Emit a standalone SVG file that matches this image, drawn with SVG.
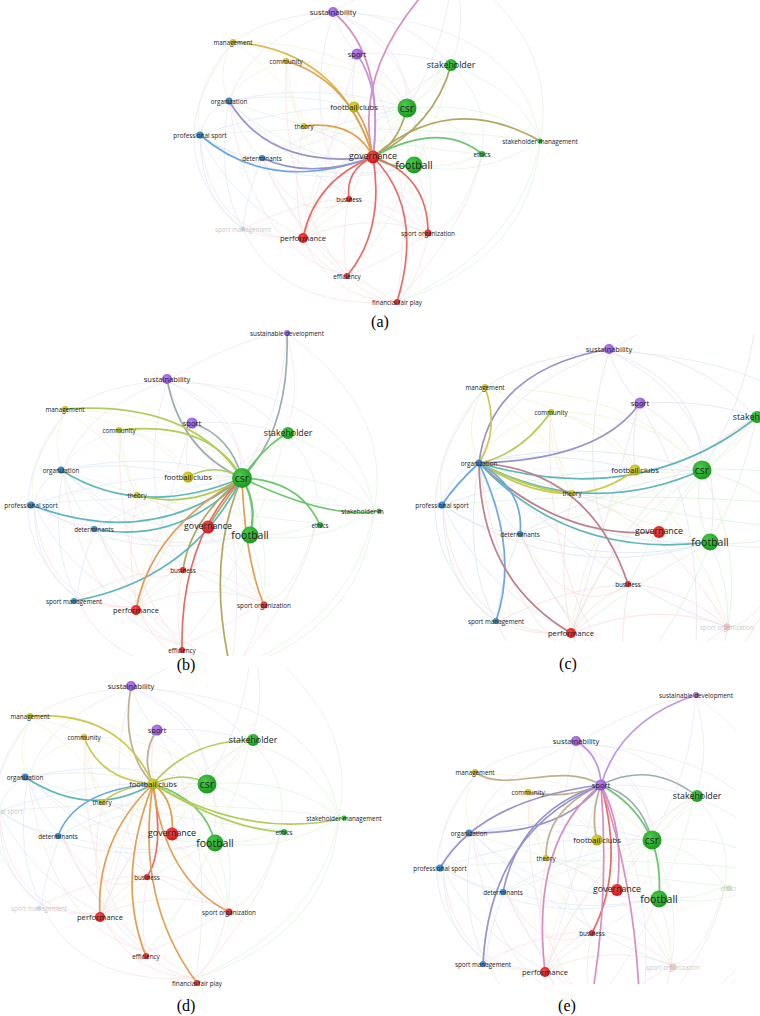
<svg xmlns="http://www.w3.org/2000/svg" xmlns:xlink="http://www.w3.org/1999/xlink" width="760" height="1016" viewBox="0 0 760 1016">
<style>
text{font-family:"Open Sans","Liberation Sans",sans-serif;fill:#222;text-anchor:middle;dominant-baseline:central}
.s{font-size:6.3px}.m{font-size:7.6px}.l{font-size:8.8px}.x{font-size:10.5px}
.cap{font-family:"Liberation Serif",serif;font-size:16px;fill:#000}
.fade{opacity:.25}
path{fill:none}
.f{stroke-width:.6;opacity:.55}
.fb{stroke:#b8d0ee}.fg{stroke:#bfe6bf}.fr{stroke:#f6c0c0}.fy{stroke:#e8e6b0}.fp{stroke:#d6c8f0}
.h{stroke-width:1.7;stroke-linecap:round;opacity:.9}
.red{stroke:#ea5a55}.org{stroke:#df9540}.oy{stroke:#d8b23a}.yel{stroke:#c8c43a}.yg{stroke:#a8c845}
.grn{stroke:#5cc05c}.olv{stroke:#a89e50}.blu{stroke:#5c9fe0}.bp{stroke:#8d88c6}.pur{stroke:#b98ae6}
.pk{stroke:#d384b8}.tl{stroke:#4fb0b5}.tan{stroke:#bba883}.gry{stroke:#8fa6a6}.rp{stroke:#b8727e}
</style>
<defs>
<radialGradient id="gR" cx=".4" cy=".35" r=".7"><stop offset="0" stop-color="#f24a4a"/><stop offset="1" stop-color="#cc1414"/></radialGradient>
<radialGradient id="gG" cx=".4" cy=".35" r=".7"><stop offset="0" stop-color="#4ccc4c"/><stop offset="1" stop-color="#16961a"/></radialGradient>
<radialGradient id="gB" cx=".4" cy=".35" r=".7"><stop offset="0" stop-color="#4a9ae0"/><stop offset="1" stop-color="#1f6fb4"/></radialGradient>
<radialGradient id="gY" cx=".4" cy=".35" r=".7"><stop offset="0" stop-color="#dcd83a"/><stop offset="1" stop-color="#aaa60c"/></radialGradient>
<radialGradient id="gP" cx=".4" cy=".35" r=".7"><stop offset="0" stop-color="#b882ee"/><stop offset="1" stop-color="#8a4ccc"/></radialGradient>
<clipPath id="cA"><rect x="150" y="0" width="460" height="312"/></clipPath>
<clipPath id="cB"><rect x="0" y="325" width="384" height="331"/></clipPath>
<clipPath id="cC"><rect x="400" y="335" width="360" height="306"/></clipPath>
<clipPath id="cD"><rect x="0" y="668" width="390" height="328"/></clipPath>
<clipPath id="cE"><rect x="390" y="680" width="346" height="304"/></clipPath>
<g id="bg" class="f">
<path class="fp" d="M333 12Q400 10 451 65"/><path class="fp" d="M333 12Q410 40 407 108"/><path class="fp" d="M333 12Q270 15 233 42"/>
<path class="fp" d="M333 12Q250 40 229 101"/><path class="fp" d="M333 12Q430 60 414 165"/><path class="fp" d="M333 12Q400 -30 452 -36"/>
<path class="fp" d="M452 -36Q470 20 451 65"/><path class="fp" d="M452 -36Q450 40 407 108"/><path class="fp" d="M333 12Q340 35 357 54"/>
<path class="fp" d="M357 54Q410 50 451 65"/><path class="fp" d="M357 54Q390 70 407 108"/><path class="fp" d="M357 54Q350 80 354 107"/>
<path class="fp" d="M333 12Q300 120 349 199"/><path class="fp" d="M357 54Q330 150 303 238"/><path class="fp" d="M357 54Q420 150 397 302"/>
<path class="fy" d="M233 42Q215 70 229 101"/><path class="fy" d="M233 42Q190 90 200 135"/><path class="fy" d="M233 42Q320 60 354 107"/>
<path class="fy" d="M233 42Q350 40 407 108"/><path class="fy" d="M286 61Q240 75 229 101"/><path class="fy" d="M286 61Q340 70 354 107"/>
<path class="fy" d="M286 61Q370 60 407 108"/><path class="fy" d="M286 61Q285 100 304 126"/><path class="fy" d="M304 126Q360 150 414 165"/>
<path class="fy" d="M354 107Q310 170 303 238"/><path class="fy" d="M354 107Q410 170 428 233"/><path class="fy" d="M233 42Q300 90 304 126"/>
<path class="fy" d="M286 61Q300 160 349 199"/><path class="fy" d="M354 107Q420 120 451 65"/>
<path class="fb" d="M229 101Q205 110 200 135"/><path class="fb" d="M229 101Q240 140 262 158"/><path class="fb" d="M229 101Q215 180 243 229"/>
<path class="fb" d="M229 101Q290 90 354 107"/><path class="fb" d="M229 101Q320 80 407 108"/><path class="fb" d="M229 101Q300 170 414 165"/>
<path class="fb" d="M200 135Q225 155 262 158"/><path class="fb" d="M200 135Q200 200 243 229"/><path class="fb" d="M200 135Q300 200 414 165"/>
<path class="fb" d="M200 135Q300 100 407 108"/><path class="fb" d="M262 158Q245 200 243 229"/><path class="fb" d="M262 158Q340 185 414 165"/>
<path class="fb" d="M262 158Q330 120 407 108"/><path class="fb" d="M200 135Q230 200 303 238"/><path class="fb" d="M229 101Q330 200 428 233"/>
<path class="fb" d="M233 42Q150 150 243 229"/><path class="fb" d="M262 158Q300 240 347 276"/>
<path class="fg" d="M451 65Q420 80 407 108"/><path class="fg" d="M451 65Q440 120 414 165"/><path class="fg" d="M451 65Q490 100 482 154"/>
<path class="fg" d="M451 65Q520 90 540 141"/><path class="fg" d="M407 108Q400 140 414 165"/><path class="fg" d="M407 108Q460 120 482 154"/>
<path class="fg" d="M407 108Q490 100 540 141"/><path class="fg" d="M414 165Q450 170 482 154"/><path class="fg" d="M414 165Q480 180 540 141"/>
<path class="fg" d="M407 108Q330 160 303 238"/><path class="fg" d="M414 165Q350 200 303 238"/><path class="fg" d="M407 108Q370 150 349 199"/>
<path class="fg" d="M414 165Q430 200 428 233"/><path class="fg" d="M407 108Q440 170 428 233"/><path class="fg" d="M414 165Q390 230 347 276"/>
<path class="fg" d="M333 12Q520 20 540 141"/><path class="fg" d="M452 -36Q560 40 540 141"/><path class="fg" d="M397 302Q530 260 540 141"/>
<path class="fg" d="M407 108Q300 150 262 158"/><path class="fg" d="M451 65Q380 140 373 157"/><path class="fg" d="M482 154Q460 230 428 233"/>
<path class="fg" d="M540 141Q520 250 397 302"/><path class="fg" d="M229 101Q330 140 482 154"/><path class="fg" d="M200 135Q380 120 540 141"/>
<path class="fr" d="M303 238Q320 210 349 199"/><path class="fr" d="M303 238Q315 265 347 276"/><path class="fr" d="M303 238Q330 300 397 302"/>
<path class="fr" d="M303 238Q370 210 428 233"/><path class="fr" d="M349 199Q390 200 428 233"/><path class="fr" d="M349 199Q340 240 347 276"/>
<path class="fr" d="M428 233Q420 280 397 302"/><path class="fr" d="M347 276Q370 300 397 302"/><path class="fr" d="M428 233Q390 260 347 276"/>
<path class="fr" d="M303 238Q270 240 243 229"/><path class="fr" d="M243 229Q300 200 349 199"/><path class="fr" d="M303 238Q290 180 304 126"/>
<path class="fr" d="M243 229Q280 310 397 302"/><path class="fr" d="M200 135Q210 240 303 238"/><path class="fr" d="M349 199Q300 230 262 158"/>
<path class="fr" d="M428 233Q380 150 304 126"/><path class="fr" d="M397 302Q300 250 262 158"/><path class="fr" d="M347 276Q250 250 229 101"/>
<path class="fr" d="M303 238Q350 120 451 65"/><path class="fr" d="M397 302Q470 220 482 154"/><path class="fr" d="M347 276Q280 200 286 61"/>
</g>
</defs>
<rect width="760" height="1016" fill="#fff"/>
<g id="connectors">
<g clip-path="url(#cA)">
<use xlink:href="#bg"/>
<g class="h">
<path class="pk" d="M373 157Q350 60 452 -36"/>
<path class="pk" d="M333 12Q385 55 373 157"/>
<path class="pur" d="M357 54Q382 90 373 157"/>
<path class="oy" d="M233 42Q340 50 373 157"/>
<path class="org" d="M286 61Q350 80 373 157"/>
<path class="org" d="M354 107Q368 125 373 157"/>
<path class="org" d="M304 126Q355 120 373 157"/>
<path class="bp" d="M229 101Q270 170 373 157"/>
<path class="blu" d="M200 135Q270 195 373 157"/>
<path class="bp" d="M262 158Q310 180 373 157"/>
<path class="olv" d="M451 65Q435 125 373 157"/>
<path class="olv" d="M407 108Q398 145 373 157"/>
<path class="olv" d="M373 157Q450 90 540 141"/>
<path class="grn" d="M373 157Q440 120 482 154"/>
<path class="grn" d="M373 157Q395 170 414 165"/>
<path class="red" d="M373 157Q345 170 349 199"/>
<path class="red" d="M373 157Q315 180 303 238"/>
<path class="red" d="M373 157Q428 175 428 233"/>
<path class="red" d="M373 157Q385 230 347 276"/>
<path class="red" d="M373 157Q425 210 397 302"/>
</g>
</g>
<g clip-path="url(#cB)">
<use xlink:href="#bg" transform="translate(-166 369)"/>
<g class="h">
<path class="gry" d="M287 333Q290 430 242 478"/>
<path class="gry" d="M167 379Q180 450 242 478"/>
<path class="gry" d="M192 423Q230 435 242 478"/>
<path class="grn" d="M242 478Q265 445 288 433"/>
<path class="yg" d="M65 409Q190 400 242 478"/>
<path class="yg" d="M119 430Q210 420 242 478"/>
<path class="yg" d="M188 477Q215 462 242 478"/>
<path class="tl" d="M61 470Q140 520 242 478"/>
<path class="yg" d="M137 495Q190 510 242 478"/>
<path class="tl" d="M31 505Q150 550 242 478"/>
<path class="tl" d="M94 529Q180 545 242 478"/>
<path class="olv" d="M242 478Q225 500 208 527"/>
<path class="grn" stroke-width="2.3" d="M242 478Q258 505 250 535"/>
<path class="grn" d="M242 478Q300 480 320 525"/>
<path class="grn" d="M242 478Q330 520 379 511"/>
<path class="olv" d="M242 478Q190 520 183 570"/>
<path class="tl" d="M74 601Q190 580 242 478"/>
<path class="org" d="M242 478Q150 530 136 610"/>
<path class="org" d="M242 478Q245 560 264 605"/>
<path class="red" d="M242 478Q180 540 182 650"/>
<path class="olv" d="M242 478Q205 560 231 671"/>
</g>
</g>
<g clip-path="url(#cC)">
<use xlink:href="#bg" transform="translate(192.75 336) scale(1.25)"/>
<g class="h">
<path class="bp" d="M479 463Q490 370 609 349"/>
<path class="yel" d="M485 387Q500 430 479 463"/>
<path class="yg" d="M551 412Q520 455 479 463"/>
<path class="bp" d="M640 403Q600 460 479 463"/>
<path class="tl" d="M479 463Q640 510 757 417"/>
<path class="yel" d="M479 463Q570 520 635 470"/>
<path class="tl" d="M479 463Q590 520 702 470"/>
<path class="yg" d="M479 463Q530 490 572 493"/>
<path class="rp" d="M479 463Q560 540 659 532"/>
<path class="tl" d="M479 463Q570 560 710 542"/>
<path class="rp" d="M479 463Q590 470 628 584"/>
<path class="blu" d="M479 463Q455 485 442 505"/>
<path class="blu" d="M479 463Q525 490 520 534"/>
<path class="blu" d="M479 463Q520 550 496 621"/>
<path class="rp" d="M479 463Q480 580 571 633"/>
</g>
</g>
<g clip-path="url(#cD)">
<use xlink:href="#bg" transform="translate(-201 676)"/>
<g class="h">
<path class="tan" d="M131 686Q120 750 153 784"/>
<path class="tan" d="M157 730Q140 755 153 784"/>
<path class="yel" d="M30 716Q120 710 153 784"/>
<path class="yel" d="M84 737Q100 780 153 784"/>
<path class="yg" d="M153 784Q190 740 253 740"/>
<path class="yg" d="M153 784Q185 770 207 784"/>
<path class="tl" d="M25 777Q90 820 153 784"/>
<path class="yel" d="M102 802Q125 785 153 784"/>
<path class="blu" d="M58 836Q75 790 153 784"/>
<path class="org" d="M153 784Q175 800 172 834"/>
<path class="grn" d="M153 784Q205 800 215 843"/>
<path class="yg" d="M153 784Q230 830 284 832"/>
<path class="yg" d="M153 784Q250 840 344 818"/>
<path class="red" d="M153 784Q165 850 147 877"/>
<path class="org" d="M153 784Q95 840 100 917"/>
<path class="org" d="M153 784Q115 880 146 956"/>
<path class="org" d="M153 784Q135 900 197 983"/>
<path class="org" d="M153 784Q165 880 229 912"/>
</g>
</g>
<g clip-path="url(#cE)">
<use xlink:href="#bg" transform="translate(243 732)"/>
<g class="h">
<path class="pur" d="M601 785Q620 720 696 695"/>
<path class="pur" d="M576 741Q600 755 601 785"/>
<path class="gry" d="M601 785Q650 760 697 796"/>
<path class="tan" d="M475 772C505 795 560 760 601 785"/>
<path class="tan" d="M528 792Q565 800 601 785"/>
<path class="bp" d="M469 833Q560 835 601 785"/>
<path class="gry" d="M601 785Q640 795 652 840"/>
<path class="tan" d="M601 785Q590 815 597 840"/>
<path class="tan" d="M546 858Q545 810 601 785"/>
<path class="bp" d="M440 868Q480 800 601 785"/>
<path class="bp" d="M503 892Q520 810 601 785"/>
<path class="bp" d="M483 964Q490 830 601 785"/>
<path class="pk" d="M545 972Q530 840 601 785"/>
<path class="pk" d="M601 785Q625 830 617 890"/>
<path class="grn" d="M601 785Q665 820 659 899"/>
<path class="red" d="M601 785Q625 870 592 933"/>
<path class="pk" d="M601 785Q610 900 590 1008"/>
<path class="pk" d="M601 785Q640 900 640 1034"/>
</g>
</g>
</g>

<g id="panel-a" clip-path="url(#cA)">
<g id="a-sustainability"><circle cx="333" cy="12" r="5" fill="url(#gP)"/><text class="m" x="333" y="12">sustainability</text></g>
<g id="a-management"><circle cx="233" cy="42" r="3" fill="url(#gY)"/><text class="s" x="233" y="42">management</text></g>
<g id="a-community"><circle cx="286" cy="61" r="3" fill="url(#gY)"/><text class="s" x="286" y="61">community</text></g>
<g id="a-sport"><circle cx="357" cy="54" r="5.5" fill="url(#gP)"/><text class="m" x="357" y="54">sport</text></g>
<g id="a-stakeholder"><circle cx="451" cy="65" r="6" fill="url(#gG)"/><text class="l" x="451" y="65">stakeholder</text></g>
<g id="a-organization"><circle cx="229" cy="101" r="3.5" fill="url(#gB)"/><text class="s" x="229" y="101">organization</text></g>
<g id="a-football-clubs"><circle cx="354" cy="107" r="5.5" fill="url(#gY)"/><text class="m" x="354" y="107">football clubs</text></g>
<g id="a-csr"><circle cx="407" cy="108" r="9.5" fill="url(#gG)"/><text class="x" x="407" y="108">csr</text></g>
<g id="a-theory"><circle cx="304" cy="126" r="3" fill="url(#gY)"/><text class="s" x="304" y="126">theory</text></g>
<g id="a-professional-sport"><circle cx="200" cy="135" r="3.5" fill="url(#gB)"/><text class="s" x="200" y="135">professional sport</text></g>
<g id="a-stakeholder-management"><circle cx="540" cy="141" r="2.5" fill="url(#gG)"/><text class="s" x="540" y="141">stakeholder management</text></g>
<g id="a-ethics"><circle cx="482" cy="154" r="3" fill="url(#gG)"/><text class="s" x="482" y="154">ethics</text></g>
<g id="a-determinants"><circle cx="262" cy="158" r="3" fill="url(#gB)"/><text class="s" x="262" y="158">determinants</text></g>
<g id="a-governance"><circle cx="373" cy="157" r="6.5" fill="url(#gR)"/><text class="l" x="373" y="156">governance</text></g>
<g id="a-football"><circle cx="414" cy="165" r="8.5" fill="url(#gG)"/><text class="x" x="414" y="165">football</text></g>
<g id="a-business"><circle cx="349" cy="199" r="3" fill="url(#gR)"/><text class="s" x="349" y="199">business</text></g>
<g id="a-sport-management" class="fade"><circle cx="243" cy="229" r="2.5" fill="url(#gB)"/><text class="s" x="243" y="229">sport management</text></g>
<g id="a-performance"><circle cx="303" cy="238" r="5" fill="url(#gR)"/><text class="m" x="303" y="238">performance</text></g>
<g id="a-sport-organization"><circle cx="428" cy="233" r="3.5" fill="url(#gR)"/><text class="s" x="428" y="233">sport organization</text></g>
<g id="a-efficiency"><circle cx="347" cy="276" r="3" fill="url(#gR)"/><text class="s" x="347" y="276">efficiency</text></g>
<g id="a-financial-fair-play"><circle cx="397" cy="302" r="3" fill="url(#gR)"/><text class="s" x="397" y="302">financial fair play</text></g>
</g>

<g id="panel-b" clip-path="url(#cB)">
<g id="b-sustainable-development"><circle cx="287" cy="333" r="3" fill="url(#gP)"/><text class="s" x="287" y="333">sustainable development</text></g>
<g id="b-sustainability"><circle cx="167" cy="379" r="5" fill="url(#gP)"/><text class="m" x="167" y="379">sustainability</text></g>
<g id="b-management"><circle cx="65" cy="409" r="3" fill="url(#gY)"/><text class="s" x="65" y="409">management</text></g>
<g id="b-community"><circle cx="119" cy="430" r="3" fill="url(#gY)"/><text class="s" x="119" y="430">community</text></g>
<g id="b-sport"><circle cx="192" cy="423" r="5.5" fill="url(#gP)"/><text class="m" x="192" y="423">sport</text></g>
<g id="b-stakeholder"><circle cx="288" cy="433" r="6" fill="url(#gG)"/><text class="l" x="288" y="433">stakeholder</text></g>
<g id="b-organization"><circle cx="61" cy="470" r="3.5" fill="url(#gB)"/><text class="s" x="61" y="470">organization</text></g>
<g id="b-football-clubs"><circle cx="188" cy="477" r="5.5" fill="url(#gY)"/><text class="m" x="188" y="477">football clubs</text></g>
<g id="b-csr"><circle cx="242" cy="478" r="10" fill="url(#gG)"/><text class="x" x="242" y="478">csr</text></g>
<g id="b-theory"><circle cx="137" cy="495" r="3" fill="url(#gY)"/><text class="s" x="137" y="495">theory</text></g>
<g id="b-professional-sport"><circle cx="31" cy="505" r="3.5" fill="url(#gB)"/><text class="s" x="31" y="505">professional sport</text></g>
<g id="b-stakeholder-management"><circle cx="379" cy="511" r="2.5" fill="url(#gG)"/><text class="s" x="379" y="511">stakeholder management</text></g>
<g id="b-ethics"><circle cx="320" cy="525" r="3" fill="url(#gG)"/><text class="s" x="320" y="525">ethics</text></g>
<g id="b-determinants"><circle cx="94" cy="529" r="3" fill="url(#gB)"/><text class="s" x="94" y="529">determinants</text></g>
<g id="b-governance"><circle cx="208" cy="527" r="6.5" fill="url(#gR)"/><text class="l" x="208" y="526">governance</text></g>
<g id="b-football"><circle cx="250" cy="535" r="8.5" fill="url(#gG)"/><text class="x" x="250" y="535">football</text></g>
<g id="b-business"><circle cx="183" cy="570" r="3" fill="url(#gR)"/><text class="s" x="183" y="570">business</text></g>
<g id="b-sport-management"><circle cx="74" cy="601" r="3" fill="url(#gB)"/><text class="s" x="74" y="601">sport management</text></g>
<g id="b-performance"><circle cx="136" cy="610" r="5" fill="url(#gR)"/><text class="m" x="136" y="610">performance</text></g>
<g id="b-sport-organization"><circle cx="264" cy="605" r="3.5" fill="url(#gR)"/><text class="s" x="264" y="605">sport organization</text></g>
<g id="b-efficiency"><circle cx="182" cy="650" r="3" fill="url(#gR)"/><text class="s" x="182" y="650">efficiency</text></g>
</g>

<g id="panel-c" clip-path="url(#cC)">
<g id="c-sustainability"><circle cx="609" cy="349" r="5" fill="url(#gP)"/><text class="m" x="609" y="349">sustainability</text></g>
<g id="c-management"><circle cx="485" cy="387" r="3" fill="url(#gY)"/><text class="s" x="485" y="387">management</text></g>
<g id="c-community"><circle cx="551" cy="412" r="3" fill="url(#gY)"/><text class="s" x="551" y="412">community</text></g>
<g id="c-sport"><circle cx="640" cy="403" r="5.5" fill="url(#gP)"/><text class="m" x="640" y="403">sport</text></g>
<g id="c-stakeholder"><circle cx="757" cy="417" r="6" fill="url(#gG)"/><text class="l" x="757" y="417">stakeholder</text></g>
<g id="c-organization"><circle cx="479" cy="463" r="3.5" fill="url(#gB)"/><text class="s" x="479" y="463">organization</text></g>
<g id="c-football-clubs"><circle cx="635" cy="470" r="5.5" fill="url(#gY)"/><text class="m" x="635" y="470">football clubs</text></g>
<g id="c-csr"><circle cx="702" cy="470" r="9.5" fill="url(#gG)"/><text class="x" x="702" y="470">csr</text></g>
<g id="c-theory"><circle cx="572" cy="493" r="3" fill="url(#gY)"/><text class="s" x="572" y="493">theory</text></g>
<g id="c-professional-sport"><circle cx="442" cy="505" r="3.5" fill="url(#gB)"/><text class="s" x="442" y="505">professional sport</text></g>
<g id="c-determinants"><circle cx="520" cy="534" r="3" fill="url(#gB)"/><text class="s" x="520" y="534">determinants</text></g>
<g id="c-governance"><circle cx="659" cy="532" r="6" fill="url(#gR)"/><text class="l" x="659" y="531">governance</text></g>
<g id="c-football"><circle cx="710" cy="542" r="8.5" fill="url(#gG)"/><text class="x" x="710" y="542">football</text></g>
<g id="c-business"><circle cx="628" cy="584" r="3" fill="url(#gR)"/><text class="s" x="628" y="584">business</text></g>
<g id="c-sport-management"><circle cx="496" cy="621" r="3" fill="url(#gB)"/><text class="s" x="496" y="621">sport management</text></g>
<g id="c-performance"><circle cx="571" cy="633" r="5" fill="url(#gR)"/><text class="m" x="571" y="633">performance</text></g>
<g id="c-sport-organization" class="fade"><circle cx="727" cy="627" r="3.5" fill="url(#gR)"/><text class="s" x="727" y="627">sport organization</text></g>
</g>

<g id="panel-d" clip-path="url(#cD)">
<g id="d-sustainability"><circle cx="131" cy="686" r="5" fill="url(#gP)"/><text class="m" x="131" y="686">sustainability</text></g>
<g id="d-management"><circle cx="30" cy="716" r="3" fill="url(#gY)"/><text class="s" x="30" y="716">management</text></g>
<g id="d-community"><circle cx="84" cy="737" r="3" fill="url(#gY)"/><text class="s" x="84" y="737">community</text></g>
<g id="d-sport"><circle cx="157" cy="730" r="5.5" fill="url(#gP)"/><text class="m" x="157" y="730">sport</text></g>
<g id="d-stakeholder"><circle cx="253" cy="740" r="6" fill="url(#gG)"/><text class="l" x="253" y="740">stakeholder</text></g>
<g id="d-organization"><circle cx="25" cy="777" r="3.5" fill="url(#gB)"/><text class="s" x="25" y="777">organization</text></g>
<g id="d-football-clubs"><circle cx="153" cy="784" r="5.5" fill="url(#gY)"/><text class="m" x="153" y="784">football clubs</text></g>
<g id="d-csr"><circle cx="207" cy="784" r="9.5" fill="url(#gG)"/><text class="x" x="207" y="784">csr</text></g>
<g id="d-theory"><circle cx="102" cy="802" r="3" fill="url(#gY)"/><text class="s" x="102" y="802">theory</text></g>
<g id="d-professional-sport" class="fade"><circle cx="-4" cy="811" r="3.5" fill="url(#gB)"/><text class="s" x="-4" y="811">professional sport</text></g>
<g id="d-stakeholder-management"><circle cx="344" cy="818" r="2.5" fill="url(#gG)"/><text class="s" x="344" y="818">stakeholder management</text></g>
<g id="d-ethics"><circle cx="284" cy="832" r="3" fill="url(#gG)"/><text class="s" x="284" y="832">ethics</text></g>
<g id="d-determinants"><circle cx="58" cy="836" r="3" fill="url(#gB)"/><text class="s" x="58" y="836">determinants</text></g>
<g id="d-governance"><circle cx="172" cy="834" r="6.5" fill="url(#gR)"/><text class="l" x="172" y="833">governance</text></g>
<g id="d-football"><circle cx="215" cy="843" r="8.5" fill="url(#gG)"/><text class="x" x="215" y="843">football</text></g>
<g id="d-business"><circle cx="147" cy="877" r="3" fill="url(#gR)"/><text class="s" x="147" y="877">business</text></g>
<g id="d-sport-management" class="fade"><circle cx="39" cy="908" r="2.5" fill="url(#gB)"/><text class="s" x="39" y="908">sport management</text></g>
<g id="d-performance"><circle cx="100" cy="917" r="5" fill="url(#gR)"/><text class="m" x="100" y="917">performance</text></g>
<g id="d-sport-organization"><circle cx="229" cy="912" r="3.5" fill="url(#gR)"/><text class="s" x="229" y="912">sport organization</text></g>
<g id="d-efficiency"><circle cx="146" cy="956" r="3" fill="url(#gR)"/><text class="s" x="146" y="956">efficiency</text></g>
<g id="d-financial-fair-play"><circle cx="197" cy="983" r="3" fill="url(#gR)"/><text class="s" x="197" y="983">financial fair play</text></g>
</g>

<g id="panel-e" clip-path="url(#cE)">
<g id="e-sustainable-development"><circle cx="696" cy="695" r="3" fill="url(#gP)"/><text class="s" x="696" y="695">sustainable development</text></g>
<g id="e-sustainability"><circle cx="576" cy="741" r="5" fill="url(#gP)"/><text class="m" x="576" y="741">sustainability</text></g>
<g id="e-management"><circle cx="475" cy="772" r="3" fill="url(#gY)"/><text class="s" x="475" y="772">management</text></g>
<g id="e-community"><circle cx="528" cy="792" r="3" fill="url(#gY)"/><text class="s" x="528" y="792">community</text></g>
<g id="e-sport"><circle cx="601" cy="785" r="5.5" fill="url(#gP)"/><text class="m" x="601" y="785">sport</text></g>
<g id="e-stakeholder"><circle cx="697" cy="796" r="6" fill="url(#gG)"/><text class="l" x="697" y="796">stakeholder</text></g>
<g id="e-organization"><circle cx="469" cy="833" r="3.5" fill="url(#gB)"/><text class="s" x="469" y="833">organization</text></g>
<g id="e-football-clubs"><circle cx="597" cy="840" r="5.5" fill="url(#gY)"/><text class="m" x="597" y="840">football clubs</text></g>
<g id="e-csr"><circle cx="652" cy="840" r="9.5" fill="url(#gG)"/><text class="x" x="652" y="840">csr</text></g>
<g id="e-theory"><circle cx="546" cy="858" r="3" fill="url(#gY)"/><text class="s" x="546" y="858">theory</text></g>
<g id="e-professional-sport"><circle cx="440" cy="868" r="3.5" fill="url(#gB)"/><text class="s" x="440" y="868">professional sport</text></g>
<g id="e-ethics" class="fade"><circle cx="729" cy="888" r="3" fill="url(#gG)"/><text class="s" x="729" y="888">ethics</text></g>
<g id="e-determinants"><circle cx="503" cy="892" r="3" fill="url(#gB)"/><text class="s" x="503" y="892">determinants</text></g>
<g id="e-governance"><circle cx="617" cy="890" r="6" fill="url(#gR)"/><text class="l" x="617" y="889">governance</text></g>
<g id="e-football"><circle cx="659" cy="899" r="8.5" fill="url(#gG)"/><text class="x" x="659" y="899">football</text></g>
<g id="e-business"><circle cx="592" cy="933" r="3" fill="url(#gR)"/><text class="s" x="592" y="933">business</text></g>
<g id="e-sport-management"><circle cx="483" cy="964" r="3" fill="url(#gB)"/><text class="s" x="483" y="964">sport management</text></g>
<g id="e-performance"><circle cx="545" cy="972" r="5" fill="url(#gR)"/><text class="m" x="545" y="972">performance</text></g>
<g id="e-sport-organization" class="fade"><circle cx="673" cy="967" r="3.5" fill="url(#gR)"/><text class="s" x="673" y="967">sport organization</text></g>
</g>

<g id="captions">
<text class="cap" x="380" y="321">(a)</text>
<text class="cap" x="186" y="664">(b)</text>
<text class="cap" x="568" y="663">(c)</text>
<text class="cap" x="186" y="1005">(d)</text>
<text class="cap" x="567" y="1005">(e)</text>
</g>
</svg>
